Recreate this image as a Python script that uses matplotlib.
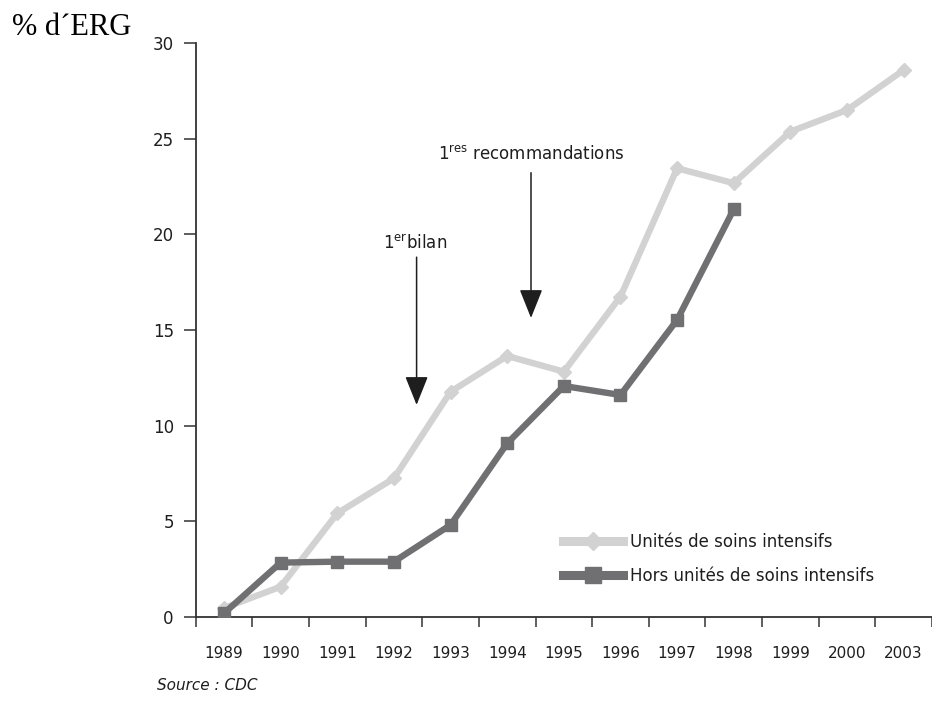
import matplotlib
matplotlib.use('Agg')
import matplotlib.pyplot as plt

# data
years = ['1989', '1990', '1991', '1992', '1993', '1994', '1995', '1996',
         '1997', '1998', '1999', '2000', '2003']
usi = [0.45, 1.57, 5.41, 7.24, 11.77, 13.64, 12.82, 16.75, 23.46, 22.68, 25.38, 26.51, 28.6]
hors_usi = [0.18, 2.83, 2.88, 2.88, 4.8, 9.07, 12.07, 11.6, 15.53, 21.32]
yticks = [0, 5, 10, 15, 20, 25, 30]

light = '#d2d2d2'
dark = '#707072'
ink = '#1e1e1e'

fig = plt.figure(figsize=(9.32, 7.06), dpi=100)
ax = fig.add_axes([195.7 / 932, 89.3 / 706, (932 - 195.7) / 932, (616.7 - 43.3) / 706])

x1 = list(range(len(usi)))
x2 = list(range(len(hors_usi)))
ax.plot(x1, usi, color=light, lw=4.6, marker='D', ms=7, mec=light, mfc=light,
        label='Unités de soins intensifs', zorder=3)
ax.plot(x2, hors_usi, color=dark, lw=4.6, marker='s', ms=9, mec=dark, mfc=dark,
        label='Hors unités de soins intensifs', zorder=4)

ax.set_ylim(0, 30)
ax.set_xlim(-0.5, 12.35)

ax.spines['top'].set_visible(False)
ax.spines['right'].set_visible(False)
for s in ['left', 'bottom']:
    ax.spines[s].set_color('#333333')
    ax.spines[s].set_linewidth(1.3)

ax.set_yticks(yticks)
ax.set_yticklabels([str(v) for v in yticks])
ax.tick_params(axis='y', length=8.3, width=1.1, pad=7.5, labelsize=12,
               color='#333333', labelcolor=ink)

# ticks between years, labels centred under each year
ax.set_xticks([i - 0.5 for i in range(len(years) + 1)])
ax.set_xticklabels([])
ax.set_xticks(range(len(years)), minor=True)
ax.set_xticklabels(years, minor=True)
ax.tick_params(axis='x', which='major', length=7.2, width=1.1, color='#333333')
ax.tick_params(axis='x', which='minor', length=0, pad=21, labelsize=11,
               labelcolor=ink)

# arrows
arrow = dict(arrowstyle='-|>,head_length=1.8,head_width=0.72', color=ink,
             lw=1.1, shrinkA=0, shrinkB=0, mutation_scale=10)
ax.annotate('', xy=(3.40, 11.08), xytext=(3.40, 18.81), arrowprops=arrow)
ax.annotate('', xy=(5.42, 15.63), xytext=(5.42, 23.23), arrowprops=arrow)
ax.text(3.38, 19.5, r'1$^{\mathrm{er}}$bilan', ha='center', va='center',
        fontsize=12, color=ink)
ax.text(5.42, 24.16, r'1$^{\mathrm{res}}$ recommandations', ha='center',
        va='center', fontsize=12, color=ink)

leg = ax.legend(loc='upper left', bbox_to_anchor=(563 / 932, (706 - 533) / 706),
                bbox_transform=fig.transFigure, frameon=False, fontsize=12,
                handlelength=3.6, handletextpad=0.4, labelspacing=0.95,
                borderpad=0, borderaxespad=0, labelcolor=ink)
for ln in leg.get_lines():
    ln.set_linewidth(6.5)
    ln.set_markersize(ln.get_markersize() * 1.25)

fig.text(12 / 932, 1 - 35 / 706, '% d´ERG', family='Liberation Serif',
         fontsize=22, va='baseline', ha='left', color='black')
fig.text(157 / 932, 1 - 686 / 706, 'Source : CDC', style='italic',
         fontsize=11, va='center', ha='left', color=ink)

fig.savefig('out.png', dpi=100)
